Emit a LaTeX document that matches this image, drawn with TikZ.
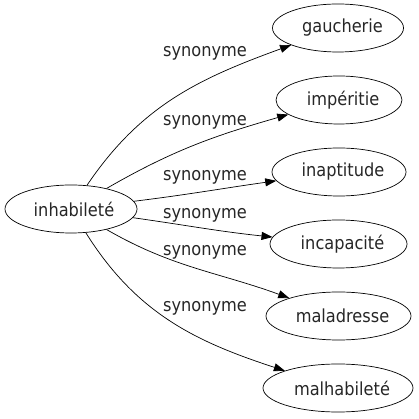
\documentclass[tikz,border=0pt]{standalone}
\usepackage{fontspec}
\setmainfont{DejaVu Sans Condensed}
\usetikzlibrary{arrows.meta,shapes.geometric}
\begin{document}
\begin{tikzpicture}[x=1pt,y=1pt,
  word/.style={draw=black,ellipse,line width=0.7pt,inner sep=0pt,minimum height=48pt,font=\fontsize{18}{20}\selectfont,text=black!85},
  rel/.style={font=\fontsize{18}{20}\selectfont,text=black!85,inner sep=0pt},
  link/.style={draw=black,line width=0.7pt,-{Triangle[length=11pt,width=8pt]}}]
\useasboundingbox (0,0) rectangle (419,419);
\node[word,minimum width=132pt] (src) at (71,210) {\hspace*{6pt}inhabileté};
\node[word,minimum width=131pt] (g) at (338,391) {\hspace*{9pt}gaucherie};
\node[word,minimum width=126pt] (imp) at (339,319) {\hspace*{8pt}impéritie};
\node[word,minimum width=134pt] (inap) at (339,247) {\hspace*{8pt}inaptitude};
\node[word,minimum width=137pt] (inc) at (338.5,175) {\hspace*{8pt}incapacité};
\node[word,minimum width=145pt] (mal) at (338.5,103) {\hspace*{8pt}maladresse};
\node[word,minimum width=150pt] (malh) at (338,31) {\hspace*{8pt}malhabileté};
\node[rel] (l1) at (205,366) {synonyme};
\node[rel] (l2) at (205,297) {synonyme};
\node[rel] (l3) at (205,242) {synonyme};
\node[rel] (l4) at (205,204) {synonyme};
\node[rel] (l5) at (205,167) {synonyme};
\node[rel] (l6) at (205,111) {synonyme};
\draw[link] (src) to[out=56,in=200] (g);
\draw[link] (src) to[out=30,in=196] (imp);
\draw[link] (src) to[out=7,in=188] (inap);
\draw[link] (src) to[out=-8,in=174] (inc);
\draw[link] (src) to[out=-30,in=160] (mal);
\draw[link] (src) to[out=-58,in=162] (malh);
\end{tikzpicture}
\end{document}
